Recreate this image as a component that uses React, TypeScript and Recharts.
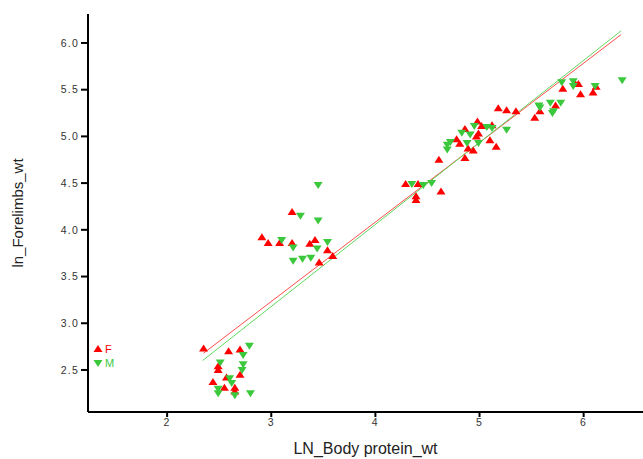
import { ScatterChart, Scatter, XAxis, YAxis, Legend, Label } from 'recharts'

// ln body protein weight vs ln forelimb weight, by sex
const femaleX = [
  2.35, 2.59, 2.70, 2.49, 2.49, 2.57, 2.70, 2.44, 2.55, 2.65, 2.65,
  2.91, 2.97, 3.08, 3.20, 3.20, 3.37, 3.42, 3.54, 3.59, 3.46,
  4.29, 4.41, 4.39, 4.39, 4.63, 4.61, 4.78, 4.81, 4.86, 4.89, 4.94, 4.97, 4.99, 4.98, 4.86,
  5.02, 5.10, 5.12, 5.16, 5.18, 5.26, 5.35, 5.53, 5.58, 5.73, 5.80, 5.92, 5.95, 5.97, 6.09, 6.12,
]
const femaleY = [
  2.73, 2.70, 2.72, 2.54, 2.50, 2.42, 2.45, 2.37, 2.31, 2.31, 2.27,
  3.92, 3.86, 3.86, 3.86, 4.19, 3.85, 3.89, 3.78, 3.72, 3.65,
  4.49, 4.49, 4.36, 4.32, 4.41, 4.75, 4.97, 4.92, 4.77, 4.87, 4.85, 5.00, 5.03, 5.16, 5.08,
  5.11, 4.96, 5.12, 4.89, 5.30, 5.28, 5.27, 5.20, 5.27, 5.33, 5.51, 5.56, 5.56, 5.45, 5.47, 5.53,
]
const maleX = [
  2.79, 2.73, 2.51, 2.73, 2.72, 2.60, 2.62, 2.49, 2.49, 2.65, 2.80,
  3.10, 3.21, 3.28, 3.45, 3.45, 3.44, 3.54, 3.21, 3.30, 3.38,
  4.35, 4.46, 4.54, 4.69, 4.69, 4.72, 4.83, 4.88, 4.91, 4.95, 4.99, 5.07, 5.12, 5.26,
  5.57, 5.58, 5.68, 5.71, 5.70, 5.78, 5.79, 5.90, 5.90, 6.11, 6.37,
]
const maleY = [
  2.76, 2.66, 2.58, 2.56, 2.50, 2.41, 2.36, 2.30, 2.25, 2.23, 2.25,
  3.89, 3.81, 4.15, 4.10, 4.48, 3.80, 3.87, 3.67, 3.69, 3.70,
  4.49, 4.48, 4.50, 4.91, 4.86, 4.94, 5.04, 4.93, 5.02, 5.11, 4.93, 5.10, 5.09, 5.07,
  5.33, 5.31, 5.36, 5.27, 5.25, 5.36, 5.58, 5.59, 5.54, 5.54, 5.60,
]

// fitted regression lines (endpoints)
const femaleFitX = [2.35, 6.36]
const femaleFitY = [2.68, 6.09]
const maleFitX = [2.34, 6.36]
const maleFitY = [2.60, 6.13]

const xTicks = [2, 3, 4, 5, 6]
const yTicks = [2.5, 3.0, 3.5, 4.0, 4.5, 5.0, 5.5, 6.0]

const RED = '#ff0000'
const GREEN = '#3cc83c'
const FONT = 'Liberation Sans, Arial, sans-serif'

const zip = (xs: number[], ys: number[]) => xs.map((x, i) => ({ x, y: ys[i] }))

const female = zip(femaleX, femaleY)
const male = zip(maleX, maleY)
const femaleFit = zip(femaleFitX, femaleFitY)
const maleFit = zip(maleFitX, maleFitY)

const UpTriangle = ({ cx, cy }: any) => (
  <polygon points={`${cx},${cy - 4} ${cx - 4.5},${cy + 3} ${cx + 4.5},${cy + 3}`} fill={RED} />
)

const DownTriangle = ({ cx, cy }: any) => (
  <polygon points={`${cx},${cy + 4} ${cx - 4.5},${cy - 3} ${cx + 4.5},${cy - 3}`} fill={GREEN} />
)

const NoDot = () => <g />

const tickStyle = { fontSize: 10.5, fill: '#333', fontFamily: FONT, letterSpacing: 1.2 }

const renderLegend = () => (
  <svg width={40} height={30}>
    <polygon points="7,1 2.5,8 11.5,8" fill={RED} />
    <text x={14} y={8.5} fontSize={11} fill={RED} fontFamily={FONT}>F</text>
    <polygon points="7,23 2.5,16 11.5,16" fill={GREEN} />
    <text x={14} y={23} fontSize={11} fill={GREEN} fontFamily={FONT}>M</text>
  </svg>
)

export default function App() {
  return (
    <div style={{ position: 'absolute', left: 0, top: 0, background: '#fff' }}>
      <ScatterChart width={643} height={459} margin={{ top: 14, right: 0, bottom: 0, left: 0 }}>
        <XAxis
          type="number"
          dataKey="x"
          domain={[1.24, 6.57]}
          ticks={xTicks}
          allowDataOverflow
          height={47}
          axisLine={{ stroke: '#000', strokeWidth: 2 }}
          tickLine={{ stroke: '#000', strokeWidth: 2 }}
          tickSize={5}
          tick={tickStyle}
        >
          <Label
            value="LN_Body protein_wt"
            position="insideBottom"
            offset={5}
            style={{ fontSize: 16, fill: '#222', fontFamily: FONT }}
          />
        </XAxis>
        <YAxis
          type="number"
          dataKey="y"
          domain={[2.05, 6.31]}
          ticks={yTicks}
          allowDataOverflow
          width={88}
          axisLine={{ stroke: '#000', strokeWidth: 2 }}
          tickLine={{ stroke: '#000', strokeWidth: 2 }}
          tickSize={7}
          tickFormatter={(v: number) => v.toFixed(1)}
          tick={tickStyle}
        >
          <Label
            value="ln_Forelimbs_wt"
            angle={-90}
            position="insideLeft"
            offset={18}
            style={{ fontSize: 15, fill: '#222', fontFamily: FONT, textAnchor: 'middle' }}
          />
        </YAxis>
        <Legend
          verticalAlign="middle"
          align="center"
          content={renderLegend}
          wrapperStyle={{ left: 91, top: 344, width: 40, height: 30 }}
        />
        <Scatter data={femaleFit} line={{ stroke: '#ff4d4d', strokeWidth: 1 }} shape={NoDot} legendType="none" isAnimationActive={false} />
        <Scatter data={maleFit} line={{ stroke: '#5fd85f', strokeWidth: 1 }} shape={NoDot} legendType="none" isAnimationActive={false} />
        <Scatter name="F" data={female} shape={UpTriangle} isAnimationActive={false} />
        <Scatter name="M" data={male} shape={DownTriangle} isAnimationActive={false} />
      </ScatterChart>
    </div>
  )
}
